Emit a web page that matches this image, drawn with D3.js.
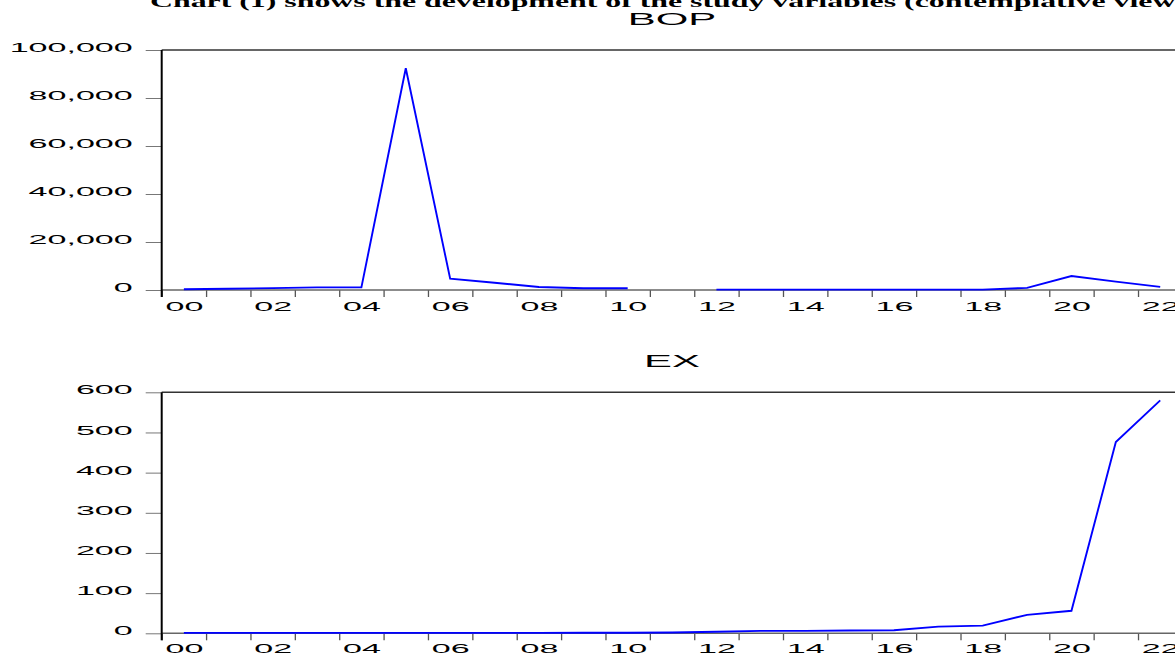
<!DOCTYPE html>
<html>
<head>
<meta charset="utf-8">
<script src="https://cdn.jsdelivr.net/npm/d3@7"></script>
<style>
  html, body { margin: 0; padding: 0; background: #ffffff; overflow: hidden; }
  svg { display: block; }
</style>
</head>
<body>
<script>
// ---- data ----
const titleText = "Chart (1) shows the development of the study variables (contemplative view)";
const years = [2000, 2001, 2002, 2003, 2004, 2005, 2006, 2007, 2008, 2009, 2010, 2011,
               2012, 2013, 2014, 2015, 2016, 2017, 2018, 2019, 2020, 2021, 2022];
const bopValues = [300, 500, 800, 1100, 1100, 92400, 4700, 3000, 1250, 700, 700, null,
                   150, 150, 150, 150, 150, 150, 150, 900, 5800, 3500, 1300];
const exValues = [1, 1, 1, 1, 1, 1, 1, 1, 1, 1.5, 1.5, 2,
                  4, 6, 6, 7, 7.5, 16.5, 19, 46, 56, 476, 580];
const bopTicks = [0, 20000, 40000, 60000, 80000, 100000];
const exTicks = [0, 100, 200, 300, 400, 500, 600];
const labelYears = [2000, 2002, 2004, 2006, 2008, 2010, 2012, 2014, 2016, 2018, 2020, 2022];
const boundaryYears = [2000, 2001, 2002, 2003, 2004, 2005, 2006, 2007, 2008, 2009, 2010, 2011,
                       2012, 2013, 2014, 2015, 2016, 2017, 2018, 2019, 2020, 2021, 2022, 2023];

// ---- layout ----
const W = 1175, H = 654;
const SX = 2.62; // horizontal stretch of the axis text
const left = 161.7, right = 1182.4;

const svg = d3.select("body").append("svg").attr("width", W).attr("height", H);
svg.append("rect").attr("width", W).attr("height", H).attr("fill", "#fff");

svg.append("text")
  .attr("x", 150).attr("y", 7)
  .attr("textLength", 1036).attr("lengthAdjust", "spacingAndGlyphs")
  .attr("font-family", "'Liberation Serif', 'Times New Roman', serif")
  .attr("font-weight", "bold").attr("font-size", 17)
  .text(titleText);

const x = d3.scaleLinear().domain([2000, 2023]).range([left, right]);

function panel(name, values, ticks, domainMax, top, bottom, titleY, fmt, labelBase) {
  const g = svg.append("g");
  const y = d3.scaleLinear().domain([0, domainMax]).range([bottom, top]);

  g.append("text")
    .attr("transform", `translate(${(left + right) / 2},${titleY}) scale(${SX},1)`)
    .attr("text-anchor", "middle")
    .attr("font-family", "'Liberation Sans', Arial, sans-serif")
    .attr("font-size", 16)
    .text(name);

  const yAxis = d3.axisLeft(y).tickValues(ticks).tickSize(16).tickPadding(0).tickFormat(fmt);
  const ya = g.append("g").attr("transform", `translate(${left},0)`).call(yAxis);
  ya.select(".domain").remove();
  ya.selectAll(".tick line").attr("stroke", "#777").attr("stroke-width", 1);
  ya.selectAll(".tick text")
    .attr("font-family", "'Liberation Sans', Arial, sans-serif")
    .attr("font-size", 13).attr("fill", "#000")
    .attr("x", -29 / SX).attr("dy", "0.13em")
    .attr("transform", `scale(${SX},1)`);

  const xTicks = d3.axisBottom(x).tickValues(boundaryYears).tickSize(7).tickFormat("");
  const xa = g.append("g").attr("transform", `translate(0,${bottom})`).call(xTicks);
  xa.select(".domain").remove();
  xa.selectAll(".tick line").attr("stroke", "#555").attr("stroke-width", 1.3);

  const xLab = d3.axisBottom(x).tickValues(labelYears.map(v => v + 0.5)).tickSize(0)
    .tickFormat(v => String(Math.floor(v) % 100).padStart(2, "0"));
  const xl = g.append("g").attr("transform", `translate(0,${bottom})`).call(xLab);
  xl.select(".domain").remove();
  xl.selectAll(".tick text")
    .attr("font-family", "'Liberation Sans', Arial, sans-serif")
    .attr("font-size", 13).attr("fill", "#000")
    .attr("y", labelBase).attr("dy", 0)
    .attr("transform", `scale(${SX},1)`);

  g.append("line").attr("x1", left).attr("x2", right).attr("y1", top).attr("y2", top)
    .attr("stroke", "#333").attr("stroke-width", 1.5);
  g.append("line").attr("x1", left).attr("x2", right).attr("y1", bottom).attr("y2", bottom)
    .attr("stroke", "#666").attr("stroke-width", 1.5);
  g.append("line").attr("x1", left).attr("x2", left).attr("y1", top).attr("y2", bottom + 7)
    .attr("stroke", "#000").attr("stroke-width", 2);

  const data = years.map((yr, i) => ({ yr, v: values[i] }));
  const line = d3.line()
    .defined(d => d.v != null)
    .x(d => x(d.yr + 0.5))
    .y(d => y(d.v));
  g.append("path").datum(data)
    .attr("fill", "none").attr("stroke", "#0000ff").attr("stroke-width", 1.9)
    .attr("stroke-linejoin", "miter")
    .attr("d", line);
}

panel("BOP", bopValues, bopTicks, 100000, 50, 290, 25, d3.format(","), 21);
panel("EX", exValues, exTicks, 600, 392.3, 633.3, 366.5, d3.format("d"), 20);
</script>
</body>
</html>
